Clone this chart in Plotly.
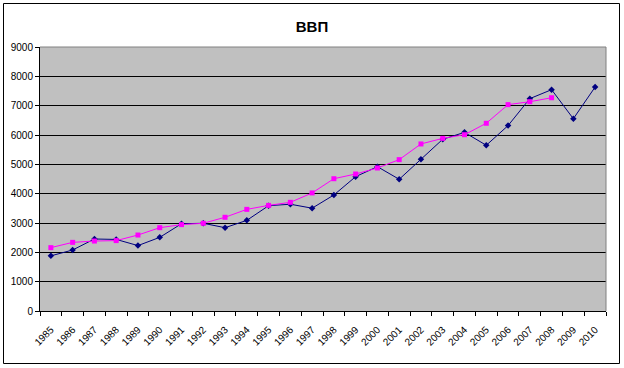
import plotly.graph_objects as go

years = [str(y) for y in range(1985, 2011)]
gdp_actual = [1880, 2080, 2455, 2440, 2230, 2510, 2975, 2990, 2840, 3090,
              3590, 3640, 3505, 3955, 4580, 4920, 4490, 5170, 5855, 6090,
              5650, 6320, 7240, 7545, 6555, 7635]
gdp_trend = [2160, 2340, 2385, 2400, 2590, 2840, 2945, 2990, 3195, 3465,
             3600, 3705, 4025, 4510, 4670, 4875, 5160, 5695, 5885, 6010,
             6400, 7035, 7135, 7270]
title_text = "ВВП"

W, H = 624, 368
L, R, T, B = 40, 18, 47, 57
pw, ph = W - L - R, H - T - B

def px_to_paper_x(px):
    return (px - L) / pw

def px_to_paper_y(py):
    return (H - B - py) / ph

fig = go.Figure()
fig.add_trace(go.Scatter(
    x=years, y=gdp_actual, mode="lines+markers", name="ВВП",
    line=dict(color="#000080", width=1),
    marker=dict(symbol="diamond", size=5, color="#000080"),
))
fig.add_trace(go.Scatter(
    x=years[:len(gdp_trend)], y=gdp_trend, mode="lines+markers", name="Тренд",
    line=dict(color="#FF00FF", width=1),
    marker=dict(symbol="square", size=5, color="#FF00FF"),
))

font_family = "Arial, 'Liberation Sans', sans-serif"

fig.update_layout(
    width=W, height=H,
    margin=dict(l=L, r=R, t=T, b=B, autoexpand=False),
    paper_bgcolor="white",
    plot_bgcolor="#C0C0C0",
    showlegend=False,
    title=dict(text=f"<b>{title_text}</b>", x=312 / W,
               xanchor="center", y=1 - 27 / H, yanchor="middle",
               font=dict(family=font_family, size=15, color="black")),
    font=dict(family=font_family, size=10, color="black"),
    xaxis=dict(
        type="category", range=[-0.5, len(years) - 0.5],
        tickson="boundaries", ticks="outside", ticklen=4, tickcolor="black",
        tickangle=-45, tickfont=dict(size=10), automargin=False,
        ticklabelstandoff=8,
        showline=True, linecolor="black", linewidth=1,
        showgrid=False, zeroline=False,
    ),
    yaxis=dict(
        range=[0, 9000], dtick=1000, tickformat="d",
        ticks="outside", ticklen=4, tickcolor="black",
        tickfont=dict(size=10), automargin=False,
        showline=True, linecolor="black", linewidth=1,
        showgrid=True, gridcolor="black", gridwidth=1,
        zeroline=False,
    ),
    shapes=[
        dict(type="line", xref="paper", yref="paper", x0=0, x1=1, y0=1, y1=1,
             line=dict(color="#808080", width=1)),
        dict(type="line", xref="paper", yref="paper", x0=1, x1=1, y0=0, y1=1,
             line=dict(color="#808080", width=1)),
        dict(type="rect", xref="paper", yref="paper",
             x0=px_to_paper_x(3.5), x1=px_to_paper_x(619.5),
             y0=px_to_paper_y(363.5), y1=px_to_paper_y(3.5),
             line=dict(color="black", width=1), fillcolor="rgba(0,0,0,0)",
             layer="above"),
    ],
)

fig.write_html(
    "out.html",
    config={"displayModeBar": False},
    post_script="document.body.style.margin='0';document.body.style.overflow='hidden';",
)
